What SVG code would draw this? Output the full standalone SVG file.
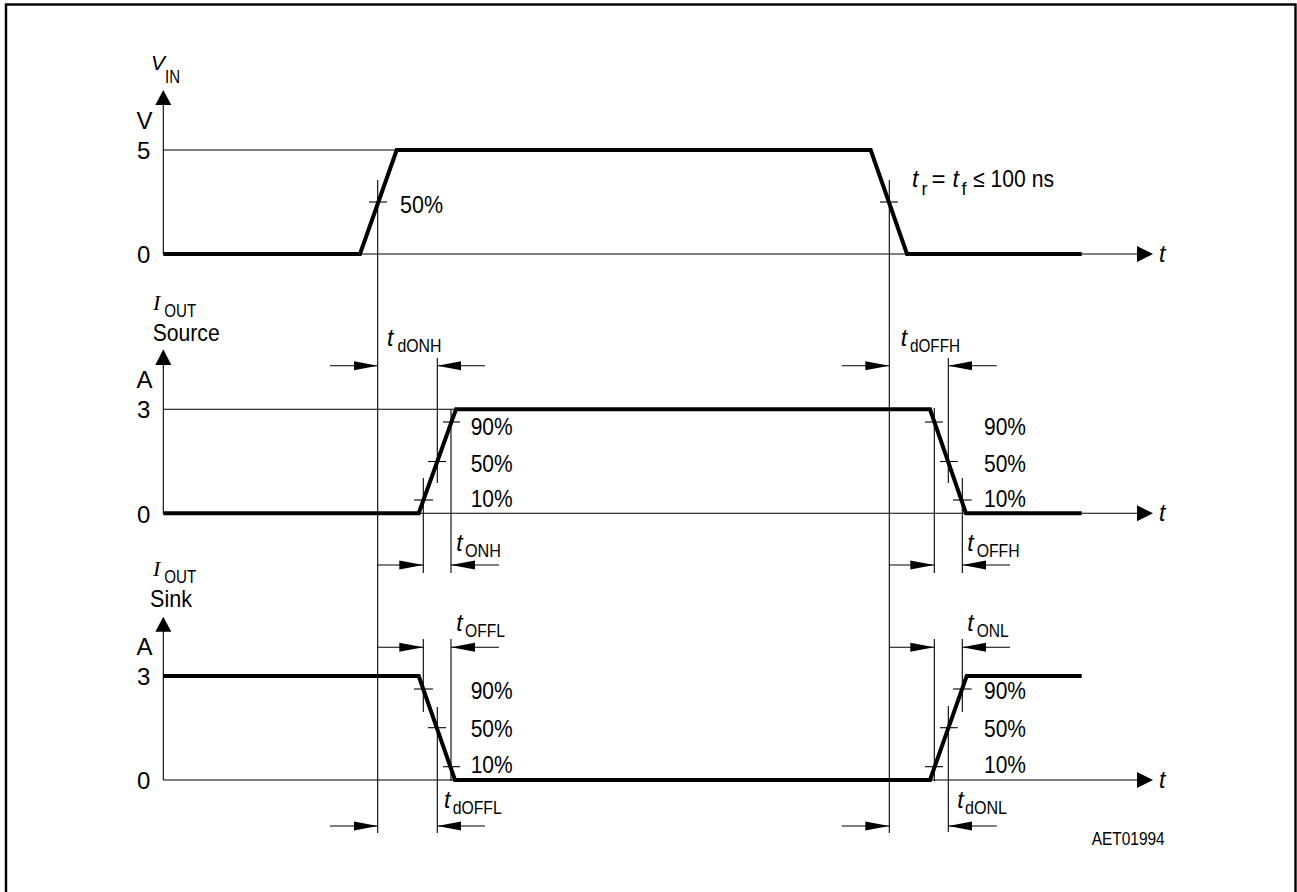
<svg xmlns="http://www.w3.org/2000/svg" width="1297" height="892" viewBox="0 0 1297 892">
<style>
.thin{stroke:#000;stroke-width:1.1;fill:none}
.thick{stroke:#000;stroke-width:4;fill:none;stroke-linejoin:miter}
.ah{fill:#000;stroke:none}
.lbl{font-family:"Liberation Sans",Arial,sans-serif;font-size:24px;fill:#000}
.it{font-family:"Liberation Sans",Arial,sans-serif;font-size:23px;font-style:italic;fill:#000}
.sub{font-family:"Liberation Sans",Arial,sans-serif;font-size:18px;fill:#000}
.ser{font-family:"Liberation Serif","Times New Roman",serif;font-size:22px;font-style:italic;fill:#000}
.dim{stroke:#000;stroke-width:1.1;fill:none;marker-end:url(#dimhead)}
</style>
<defs>
<marker id="dimhead" markerUnits="userSpaceOnUse" markerWidth="26" markerHeight="12" viewBox="0 -6 26 12" refX="24" refY="0" orient="auto">
<path d="M0,-4.5 L24,0 L0,4.5 z" fill="#000"/>
</marker>
</defs>
<rect x="6" y="4.5" width="1289.5" height="895" fill="#fff" stroke="#000" stroke-width="2.4"/>

<g id="vin-chart">
<line class="thin" x1="163.3" y1="100" x2="163.3" y2="254"/>
<polygon class="ah" points="163.3,90 155.3,105 171.3,105"/>
<line class="thin" x1="163.3" y1="254" x2="1140" y2="254"/>
<polygon class="ah" points="1153,254 1137,246 1137,262"/>
<line class="thin" x1="163.3" y1="150" x2="397" y2="150"/>
<path class="thick" d="M163.3,254 H360 L396.7,150 H870.7 L907,254 H1081.7"/>
<line class="thin" x1="369" y1="202" x2="387" y2="202"/>
<line class="thin" x1="880" y1="202" x2="898" y2="202"/>
<text class="it" x="151" y="70" style="font-size:21px">V</text>
<text class="sub" x="165" y="83.3" textLength="15" lengthAdjust="spacingAndGlyphs">IN</text>
<text class="lbl" x="136.5" y="129.3">V</text>
<text class="lbl" x="137" y="158.5">5</text>
<text class="lbl" x="137" y="263">0</text>
<text class="lbl" x="400" y="212.5" textLength="43" lengthAdjust="spacingAndGlyphs">50%</text>
<text class="it" x="1159" y="262">t</text>
<text class="it" x="912" y="187">t</text>
<text class="sub" x="921.5" y="195">r</text>
<text class="lbl" x="931.5" y="187">=</text>
<text class="it" x="952.5" y="187">t</text>
<text class="sub" x="961.5" y="195">f</text>
<text class="lbl" x="973" y="187" textLength="81" lengthAdjust="spacingAndGlyphs">≤ 100 ns</text>
</g>

<g id="source-chart">
<line class="thin" x1="163.3" y1="360" x2="163.3" y2="513.3"/>
<polygon class="ah" points="163.3,349.3 155.3,365 171.3,365"/>
<line class="thin" x1="163.3" y1="513.3" x2="1140" y2="513.3"/>
<polygon class="ah" points="1153,513.3 1137,505.3 1137,521.3"/>
<line class="thin" x1="163.3" y1="409.3" x2="456" y2="409.3"/>
<path class="thick" d="M163.3,513.3 H418.7 L456,409.3 H930 L966,513.3 H1081.7"/>
<line class="thin" x1="443" y1="422" x2="460" y2="422"/>
<line class="thin" x1="428" y1="461.5" x2="446" y2="461.5"/>
<line class="thin" x1="414" y1="500" x2="433" y2="500"/>
<line class="thin" x1="925" y1="422" x2="943" y2="422"/>
<line class="thin" x1="940" y1="461.5" x2="957.7" y2="461.5"/>
<line class="thin" x1="953" y1="500" x2="971.7" y2="500"/>
<text class="ser" x="153" y="310">I</text>
<text class="sub" x="164.3" y="317" textLength="32" lengthAdjust="spacingAndGlyphs">OUT</text>
<text class="lbl" x="152.7" y="340.7" textLength="67" lengthAdjust="spacingAndGlyphs">Source</text>
<text class="lbl" x="136.5" y="388.3">A</text>
<text class="lbl" x="137" y="418">3</text>
<text class="lbl" x="137" y="522.5">0</text>
<text class="lbl" x="470.7" y="435" textLength="42" lengthAdjust="spacingAndGlyphs">90%</text>
<text class="lbl" x="470.7" y="472" textLength="42" lengthAdjust="spacingAndGlyphs">50%</text>
<text class="lbl" x="470.7" y="507" textLength="42" lengthAdjust="spacingAndGlyphs">10%</text>
<text class="lbl" x="984" y="435" textLength="42" lengthAdjust="spacingAndGlyphs">90%</text>
<text class="lbl" x="984" y="472" textLength="42" lengthAdjust="spacingAndGlyphs">50%</text>
<text class="lbl" x="984" y="507" textLength="42" lengthAdjust="spacingAndGlyphs">10%</text>
<text class="it" x="1159" y="521.3">t</text>
<text class="it" x="387" y="346">t</text>
<text class="sub" x="397.5" y="352" textLength="44" lengthAdjust="spacingAndGlyphs">dONH</text>
<text class="it" x="900.7" y="346">t</text>
<text class="sub" x="910" y="352" textLength="50" lengthAdjust="spacingAndGlyphs">dOFFH</text>
<text class="it" x="456.3" y="551">t</text>
<text class="sub" x="465" y="557" textLength="36" lengthAdjust="spacingAndGlyphs">ONH</text>
<text class="it" x="967.3" y="551">t</text>
<text class="sub" x="976.7" y="557" textLength="43" lengthAdjust="spacingAndGlyphs">OFFH</text>
</g>

<g id="sink-chart">
<line class="thin" x1="163.3" y1="627" x2="163.3" y2="780"/>
<polygon class="ah" points="163.3,616.7 155.3,631.7 171.3,631.7"/>
<line class="thin" x1="163.3" y1="780" x2="1140" y2="780"/>
<polygon class="ah" points="1153,780 1137,772 1137,788"/>
<path class="thick" d="M163.3,676 H418.7 L455,780 H930 L966.7,676 H1081.7"/>
<line class="thin" x1="414" y1="689" x2="433" y2="689"/>
<line class="thin" x1="428" y1="727.7" x2="446" y2="727.7"/>
<line class="thin" x1="443" y1="766.7" x2="460" y2="766.7"/>
<line class="thin" x1="953" y1="689" x2="971.7" y2="689"/>
<line class="thin" x1="940" y1="727.7" x2="957.7" y2="727.7"/>
<line class="thin" x1="925" y1="766.7" x2="943" y2="766.7"/>
<text class="ser" x="153" y="576">I</text>
<text class="sub" x="164.3" y="583" textLength="32" lengthAdjust="spacingAndGlyphs">OUT</text>
<text class="lbl" x="150" y="606.7" textLength="42" lengthAdjust="spacingAndGlyphs">Sink</text>
<text class="lbl" x="136.5" y="655">A</text>
<text class="lbl" x="137" y="685">3</text>
<text class="lbl" x="137" y="789">0</text>
<text class="lbl" x="470.7" y="699" textLength="42" lengthAdjust="spacingAndGlyphs">90%</text>
<text class="lbl" x="470.7" y="737" textLength="42" lengthAdjust="spacingAndGlyphs">50%</text>
<text class="lbl" x="470.7" y="773" textLength="42" lengthAdjust="spacingAndGlyphs">10%</text>
<text class="lbl" x="984" y="699" textLength="42" lengthAdjust="spacingAndGlyphs">90%</text>
<text class="lbl" x="984" y="737" textLength="42" lengthAdjust="spacingAndGlyphs">50%</text>
<text class="lbl" x="984" y="773" textLength="42" lengthAdjust="spacingAndGlyphs">10%</text>
<text class="it" x="1159" y="788">t</text>
<text class="it" x="456.3" y="631">t</text>
<text class="sub" x="465" y="637" textLength="40" lengthAdjust="spacingAndGlyphs">OFFL</text>
<text class="it" x="967.3" y="631">t</text>
<text class="sub" x="976.7" y="637" textLength="32" lengthAdjust="spacingAndGlyphs">ONL</text>
<text class="it" x="444" y="808">t</text>
<text class="sub" x="452.7" y="814" textLength="49" lengthAdjust="spacingAndGlyphs">dOFFL</text>
<text class="it" x="957.3" y="808">t</text>
<text class="sub" x="965" y="814" textLength="42" lengthAdjust="spacingAndGlyphs">dONL</text>
<text class="sub" x="1091.7" y="845" textLength="73" lengthAdjust="spacingAndGlyphs">AET01994</text>
</g>

<g id="connectors">
<line class="thin" x1="377.7" y1="180" x2="377.7" y2="833"/>
<line class="thin" x1="889.3" y1="180" x2="889.3" y2="833"/>
<line class="thin" x1="437.3" y1="358" x2="437.3" y2="483"/>
<line class="thin" x1="423.3" y1="478" x2="423.3" y2="573"/>
<line class="thin" x1="451" y1="409" x2="451" y2="573"/>
<line class="thin" x1="948.3" y1="358" x2="948.3" y2="483"/>
<line class="thin" x1="934.3" y1="408" x2="934.3" y2="573"/>
<line class="thin" x1="962.3" y1="478" x2="962.3" y2="573"/>
<line class="thin" x1="423.3" y1="639" x2="423.3" y2="712"/>
<line class="thin" x1="451" y1="639" x2="451" y2="781"/>
<line class="thin" x1="437.3" y1="707" x2="437.3" y2="833"/>
<line class="thin" x1="934.3" y1="639" x2="934.3" y2="781"/>
<line class="thin" x1="962.3" y1="639" x2="962.3" y2="712"/>
<line class="thin" x1="948.3" y1="706" x2="948.3" y2="832"/>
<line class="dim" x1="330" y1="365.7" x2="377.7" y2="365.7"/>
<line class="dim" x1="485" y1="365.7" x2="437.3" y2="365.7"/>
<line class="dim" x1="841.7" y1="365.7" x2="889.3" y2="365.7"/>
<line class="dim" x1="996.7" y1="365.7" x2="948.3" y2="365.7"/>
<line class="dim" x1="377.7" y1="565" x2="423.3" y2="565"/>
<line class="dim" x1="499" y1="565" x2="451" y2="565"/>
<line class="dim" x1="889.3" y1="565" x2="934.3" y2="565"/>
<line class="dim" x1="1010" y1="565" x2="962.3" y2="565"/>
<line class="dim" x1="377.7" y1="647.3" x2="423.3" y2="647.3"/>
<line class="dim" x1="499" y1="647.3" x2="451" y2="647.3"/>
<line class="dim" x1="889.3" y1="647.3" x2="934.3" y2="647.3"/>
<line class="dim" x1="1010" y1="647.3" x2="962.3" y2="647.3"/>
<line class="dim" x1="330" y1="826" x2="377.7" y2="826"/>
<line class="dim" x1="485" y1="826" x2="437.3" y2="826"/>
<line class="dim" x1="841.7" y1="826" x2="889.3" y2="826"/>
<line class="dim" x1="996.7" y1="826" x2="948.3" y2="826"/>
</g>
</svg>
